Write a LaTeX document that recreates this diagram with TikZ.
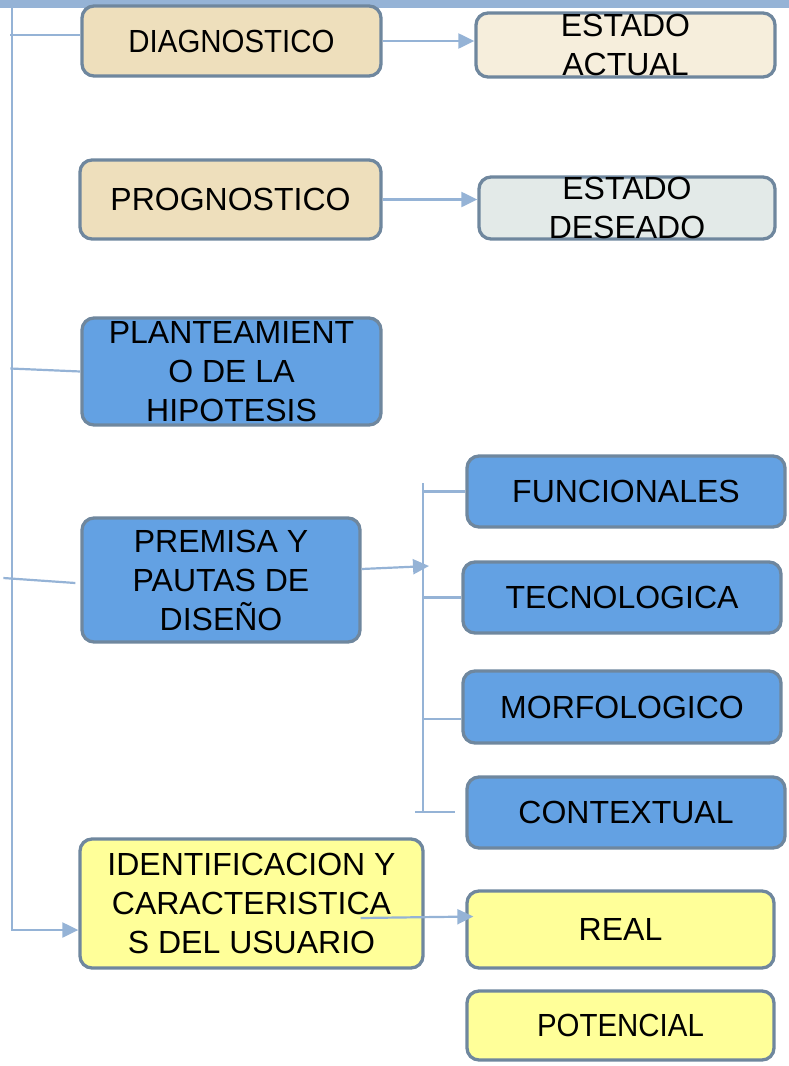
\documentclass[tikz,border=0pt]{standalone}
\usepackage{fontspec}
\setmainfont{Liberation Sans}
\newfontfamily\narrowfont[FakeStretch=0.92]{Liberation Sans}
\usetikzlibrary{arrows.meta}
\definecolor{barblue}{RGB}{149,179,214}
\definecolor{edgegray}{RGB}{111,135,158}
\definecolor{tan}{RGB}{238,223,188}
\definecolor{lighttan}{RGB}{246,238,220}
\definecolor{palegray}{RGB}{227,234,232}
\definecolor{boxblue}{RGB}{99,161,227}
\definecolor{paleyellow}{RGB}{255,255,153}
\tikzset{
  box/.style={draw=edgegray, line width=3.3pt, rounded corners=12pt, inner sep=0pt,
    align=center, font=\fontsize{32}{39}\selectfont},
  link/.style={draw=barblue, line width=2.2pt},
  tip/.style={-{Triangle[length=16pt,width=15pt]}}
}
\begin{document}
\begin{tikzpicture}[x=1pt,y=-1pt]
      \useasboundingbox (0,0) rectangle (789,1066);
      \fill[barblue] (0,0) rectangle (789,8);
      \draw
        (231.5,41) node[box,fill=tan,minimum width=299,minimum height=70] (diag){\narrowfont DIAGNOSTICO}
        (625.5,45) node[box,fill=lighttan,minimum width=299,minimum height=64] (actual){ESTADO\\ACTUAL}
        (230.5,199.5) node[box,fill=tan,minimum width=301,minimum height=79] (prog){PROGNOSTICO}
        (627,208) node[box,fill=palegray,minimum width=296,minimum height=62] (deseado){ESTADO\\DESEADO}
        (231.5,371.5) node[box,fill=boxblue,minimum width=299,minimum height=107] (plant){PLANTEAMIENT\\O DE LA\\HIPOTESIS}
        (221,580) node[box,fill=boxblue,minimum width=278,minimum height=124] (premisa){PREMISA Y\\PAUTAS DE\\DISEÑO}
        (626,491.5) node[box,fill=boxblue,minimum width=318,minimum height=71] (func){FUNCIONALES}
        (622,597.5) node[box,fill=boxblue,minimum width=318,minimum height=71] (tecno){TECNOLOGICA}
        (622,707) node[box,fill=boxblue,minimum width=318,minimum height=72] (morfo){MORFOLOGICO}
        (626,812.5) node[box,fill=boxblue,minimum width=318,minimum height=71] (context){CONTEXTUAL}
        (251.5,903.5) node[box,fill=paleyellow,minimum width=343,minimum height=129] (ident){IDENTIFICACION Y\\CARACTERISTICA\\S DEL USUARIO}
        (620.5,929.5) node[box,fill=paleyellow,minimum width=307,minimum height=77] (real){REAL}
        (620.5,1025.5) node[box,fill=paleyellow,minimum width=307,minimum height=69] (potencial){\narrowfont POTENCIAL};
      \coordinate (spinetop) at (12,8);
      \coordinate (spinebot) at (12,930);
      \coordinate (brtop) at (423,483);
      \coordinate (brbot) at (423,812);
      \coordinate (brin) at (429,566);
      \begin{scope}[link]
        \draw[tip] (spinetop) -- (spinebot) -- (ident.west |- spinebot);
        \draw ([yshift=6pt]diag.west) -- ++(-70,0);
        \draw (plant.west) -- ++(-70,-3);
        \draw ([shift={(-5,3)}]premisa.west) -- ++(-72,-5);
        \draw[tip] (diag.east) -- (diag.east -| actual.west);
        \draw[tip] (prog.east) -- (prog.east -| deseado.west);
        \draw[tip] ([yshift=11pt]premisa.east) -- (brin);
        \draw (brtop) -- (brbot);
        \draw ([xshift=-8pt]brbot) -- ++(40,0);
        \draw (brtop |- func.west) -- (func.west);
        \draw (brtop |- tecno.west) -- (tecno.west);
        \draw ([yshift=-12pt]morfo.west) -- ++(-38,0);
        \draw[tip] ([shift={(-64,14.5)}]ident.east) -- ([shift={(8,-13)}]real.west);
      \end{scope}
    \end{tikzpicture}
\end{document}
